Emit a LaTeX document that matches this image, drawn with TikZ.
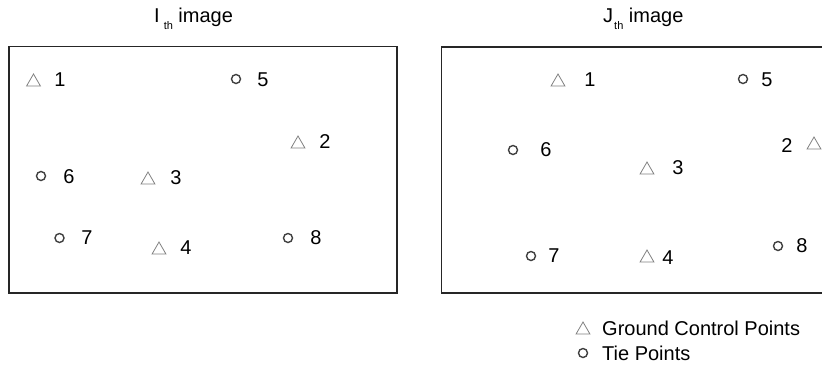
\documentclass[tikz,border=0pt]{standalone}
\usepackage{fontspec}
\setmainfont{Liberation Sans}
\usetikzlibrary{shapes.geometric}
\begin{document}
\begin{tikzpicture}[x=1pt,y=-1pt,
 lbl/.style={font=\fontsize{20}{24}\selectfont, inner sep=0pt, anchor=center},
 ttl/.style={font=\fontsize{20}{24}\selectfont, inner sep=0pt, anchor=base west},
 gcp/.style={regular polygon, regular polygon sides=3, draw=black!50, line width=0.8pt, minimum size=16pt, inner sep=0pt},
 tie/.style={circle, draw=black!75, line width=1.4pt, minimum size=9pt, inner sep=0pt},
 frame/.style={draw=black!85, line width=1.3pt}]
\useasboundingbox (0,0) rectangle (822,376);
\path[clip] (0,0) rectangle (822,376);
\newcommand{\subth}{\raisebox{-7pt}{\fontsize{11}{12}\selectfont th}}
% titles
\node[ttl] (ti) at (154,22) {I\hspace{4pt}\subth{} image};
\node[ttl] (tj) at (603,22) {J\hspace{1pt}\subth{} image};
% frames
\draw[frame] (9,46.5) rectangle (397,293);
\draw[frame] (441.5,47) rectangle (840,293);
% left image
\node[gcp] (lt1) at (33.5,82) {};  \node[lbl] (ll1) at (60,80) {1};
\node[tie] (lc5) at (236,79) {};   \node[lbl] (ll5) at (263,80) {5};
\node[gcp] (lt2) at (298,144) {};  \node[lbl] (ll2) at (325,142) {2};
\node[tie] (lc6) at (41,176) {};   \node[lbl] (ll6) at (69,177) {6};
\node[gcp] (lt3) at (148,180) {};  \node[lbl] (ll3) at (176,178) {3};
\node[tie] (lc7) at (59.5,238) {}; \node[lbl] (ll7) at (87,238) {7};
\node[gcp] (lt4) at (159,250) {};  \node[lbl] (ll4) at (186,248) {4};
\node[tie] (lc8) at (288,238) {};  \node[lbl] (ll8) at (316,238) {8};
% right image
\node[gcp] (rt1) at (558,82) {};   \node[lbl] (rl1) at (590,80) {1};
\node[tie] (rc5) at (743,79) {};   \node[lbl] (rl5) at (767,80) {5};
\node[gcp] (rt2) at (814,145) {};  \node[lbl] (rl2) at (787,146) {2};
\node[tie] (rc6) at (513,150) {};  \node[lbl] (rl6) at (546,150) {6};
\node[gcp] (rt3) at (647,170) {};  \node[lbl] (rl3) at (678,168) {3};
\node[tie] (rc7) at (531,256) {};  \node[lbl] (rl7) at (554,256) {7};
\node[gcp] (rt4) at (647,258) {};  \node[lbl] (rl4) at (668,258) {4};
\node[tie] (rc8) at (778,246) {};  \node[lbl] (rl8) at (802,246) {8};
% legend
\node[gcp] (lgt) at (583,330) {};
\node[lbl, anchor=west] (lgtt) at (602,328) {Ground Control Points};
\node[tie] (lgc) at (583,353) {};
\node[lbl, anchor=west] (lgct) at (602,353) {Tie Points};
\end{tikzpicture}
\end{document}
